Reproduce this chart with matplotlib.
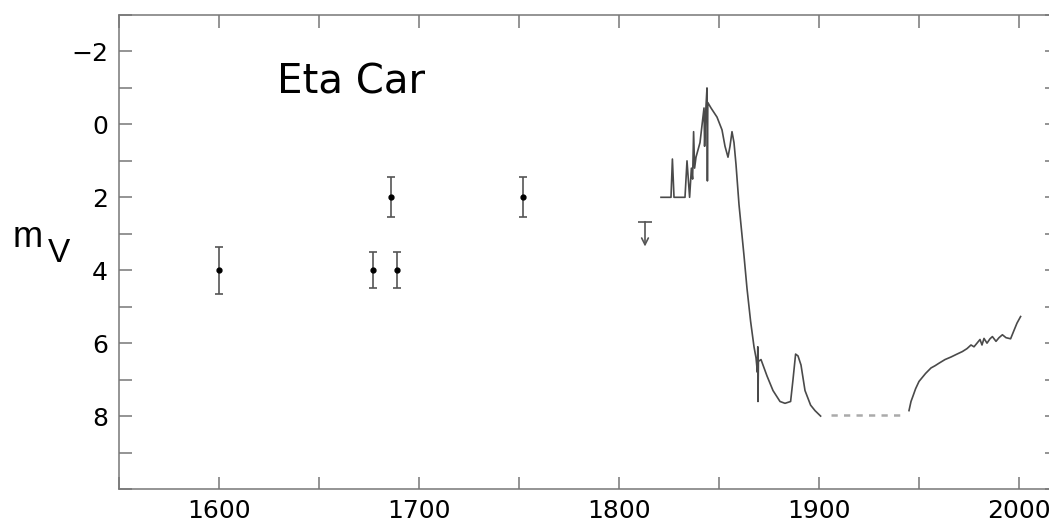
import matplotlib
matplotlib.use("Agg")
import matplotlib.pyplot as plt
from matplotlib.ticker import MultipleLocator, FixedLocator

plt.rcParams['font.family'] = ['DejaVu Sans']

# early naked-eye estimates (year, m_V, error)
hist_years = [1600, 1677, 1686, 1689, 1752]
hist_mags = [4.0, 4.0, 2.0, 4.0, 2.0]
hist_errs = [0.65, 0.5, 0.55, 0.5, 0.55]

# upper limit
lim_year = 1813
lim_mag = 2.67
lim_tip = 3.35

# great eruption and decline
erupt_years = [1821.0, 1826.0, 1826.7, 1827.5, 1833.0, 1834.0, 1835.3, 1836.2, 1836.8,
               1837.3, 1837.8, 1838.5, 1840.5, 1842.5, 1842.8, 1843.3, 1844.0, 1844.2,
               1844.4, 1846.0, 1849.0, 1851.5, 1853.0, 1854.5, 1855.5, 1856.5, 1857.5,
               1858.5, 1860.0, 1862.5, 1864.0, 1865.8, 1867.5, 1868.5, 1869.2, 1869.4,
               1869.5, 1869.7, 1871.0, 1874.0, 1877.0, 1880.5, 1883.0, 1885.8, 1887.0,
               1888.3, 1889.5, 1891.0, 1893.0, 1895.8, 1898.0, 1900.8]
erupt_mags = [2.0, 2.0, 0.95, 2.0, 2.0, 1.0, 2.0, 1.2, 1.5,
              0.2, 1.2, 0.9, 0.5, -0.45, 0.6, -0.3, -1.0, 1.55,
              -0.6, -0.45, -0.2, 0.15, 0.6, 0.9, 0.6, 0.2, 0.5,
              1.1, 2.2, 3.6, 4.5, 5.4, 6.1, 6.4, 6.8, 6.1,
              7.6, 6.5, 6.45, 6.9, 7.3, 7.6, 7.65, 7.6, 7.0,
              6.3, 6.35, 6.6, 7.3, 7.7, 7.85, 8.0]

# poorly observed interval
gap_years = [1906, 1942]
gap_mags = [7.98, 7.98]

# 20th century brightening
mod_years = [1945.0, 1946.0, 1947.0, 1948.3, 1950.0, 1951.5, 1953.3, 1956.0, 1958.0,
             1960.0, 1963.0, 1966.0, 1969.0, 1971.7, 1974.0, 1976.0, 1977.5, 1979.0,
             1980.5, 1981.5, 1982.5, 1984.0, 1985.5, 1986.7, 1988.5, 1990.0, 1991.7,
             1993.5, 1995.8, 1997.5, 1999.0, 2000.8]
mod_mags = [7.85, 7.6, 7.45, 7.25, 7.05, 6.95, 6.83, 6.68, 6.62,
            6.55, 6.45, 6.38, 6.3, 6.23, 6.15, 6.05, 6.1, 6.0,
            5.9, 6.05, 5.87, 6.0, 5.88, 5.82, 5.95, 5.85, 5.77,
            5.85, 5.88, 5.65, 5.45, 5.27]

y_labels = [-2, 0, 2, 4, 6, 8]

fig = plt.figure(figsize=(10.49, 5.26), dpi=100)
# right frame runs just past the image edge, as in the original scan
ax = fig.add_axes([119 / 1049, 37 / 526, 938 / 1049, 474 / 526])

ax.errorbar(hist_years, hist_mags, yerr=hist_errs, fmt='o', ms=3.5, color='black',
            ecolor='#555555', elinewidth=1.2, capsize=3, capthick=1.2)

ax.hlines(lim_mag, lim_year - 3.5, lim_year + 3.5, color='#555555', lw=1.2)
ax.annotate('', xy=(lim_year, lim_tip), xytext=(lim_year, lim_mag),
            arrowprops=dict(arrowstyle='->', color='#555555', lw=1.2,
                            shrinkA=0, shrinkB=0, mutation_scale=12))

ax.plot(erupt_years, erupt_mags, color='#4a4a4a', lw=1.2)
ax.plot(gap_years, gap_mags, color='#aaaaaa', lw=1.8, ls=(0, (2.5, 2.5)))
ax.plot(mod_years, mod_mags, color='#4a4a4a', lw=1.2)

ax.set_xlim(1550, 2019)
ax.set_ylim(10, -3)
ax.xaxis.set_major_locator(MultipleLocator(100))
ax.xaxis.set_minor_locator(MultipleLocator(50))
ax.yaxis.set_major_locator(FixedLocator(y_labels))
ax.yaxis.set_minor_locator(MultipleLocator(1))
ax.tick_params(which='both', direction='in', top=True, right=True,
               length=9, width=1.1, color='#777777', labelsize=18)
ax.tick_params(axis='x', pad=7)
ax.tick_params(axis='y', pad=8)
for s in ax.spines.values():
    s.set_color('#777777')
    s.set_linewidth(1.1)

ax.text(1629, -0.85, 'Eta Car', fontsize=29, ha='left', va='baseline')

fig.text(13 / 1049, (526 - 247) / 526, 'm', fontsize=26, family='Liberation Sans',
         ha='left', va='baseline')
fig.text(48 / 1049, (526 - 262) / 526, 'V', fontsize=24, family='Liberation Sans',
         ha='left', va='baseline')

fig.savefig('out.png', dpi=100)
